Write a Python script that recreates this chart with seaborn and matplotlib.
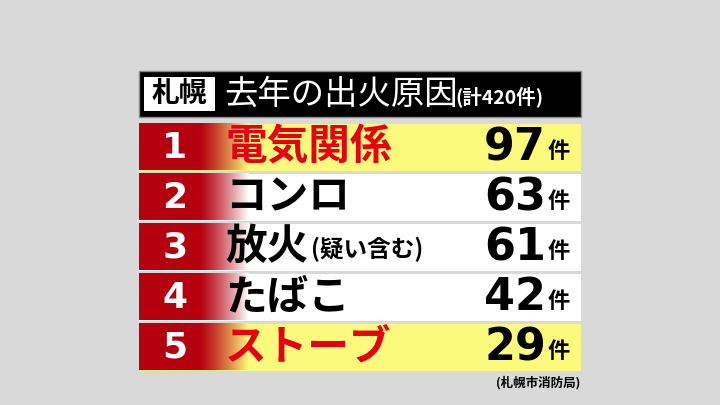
import numpy as np
import pandas as pd
import matplotlib.pyplot as plt
import seaborn as sns
from matplotlib.patches import Rectangle
from matplotlib.colors import to_rgb

ranks = ['1', '2', '3', '4', '5']
causes = ['電気関係', 'コンロ', '放火', 'たばこ', 'ストーブ']
extra = ['', '', '(疑い含む)', '', '']
counts = [97, 63, 61, 42, 29]
row_colors = ['#fcfa7c', '#ffffff', '#ffffff', '#ffffff', '#fcfa7c']
text_colors = ['#e60012', '#000000', '#000000', '#000000', '#e60012']

sns.set_theme(style='white')
plt.rcParams['font.family'] = ['Noto Sans CJK JP', 'DejaVu Sans']

fig = plt.figure(figsize=(7.2, 4.05), dpi=100, facecolor='#d9d9d9')

# background axes in pixel coordinates
bg = fig.add_axes([0, 0, 1, 1])
bg.set_xlim(0, 720)
bg.set_ylim(405, 0)
bg.axis('off')
bg.set_facecolor('#d9d9d9')

# header
bg.add_patch(Rectangle((139, 71), 442, 46, facecolor='#000000', edgecolor='#888888', lw=1))
bg.add_patch(Rectangle((144, 77), 71, 34, facecolor='#ffffff', edgecolor='none'))
bg.text(179, 94, '札幌', fontsize=20, fontweight='bold', color='black', ha='center', va='center')
bg.text(224, 94, '去年の出火原因', fontsize=24, color='white', ha='left', va='center')
bg.text(455, 97, '(計420件)', fontsize=14, fontweight='bold', color='white', ha='left', va='center')
bg.text(580, 383, '(札幌市消防局)', fontsize=9, fontweight='bold', color='black', ha='right', va='center')

# rows axes: 442 px wide starting at x=139, rows 122..372
ax = fig.add_axes([139 / 720, 1 - 372 / 405, 442 / 720, 250 / 405])
df = pd.DataFrame({'rank': ranks, 'width': [442] * 5})
sns.barplot(data=df, y='rank', x='width', hue='rank', palette=row_colors,
            saturation=1, legend=False, width=0.94, ax=ax, edgecolor='none')
ax.set_xlim(0, 442)
ax.set_ylim(4.5, -0.5)
ax.axis('off')

red = np.array(to_rgb('#b5000f'))
for i, (r, c, e, n, rc, tc) in enumerate(zip(ranks, causes, extra, counts, row_colors, text_colors)):
    base = np.array(to_rgb(rc))
    xs = np.linspace(0, 1, 200)
    t = np.clip((xs - 0.55) / 0.45, 0, 1) ** 1.2
    grad = red[None, :] * (1 - t[:, None]) + base[None, :] * t[:, None]
    ax.imshow(grad[None, :, :], extent=(0, 110, i + 0.47, i - 0.47), aspect='auto', zorder=3)
    ax.text(36, i + 0.02, r, fontsize=26, fontweight='bold', color='white',
            ha='center', va='center', zorder=4, family='DejaVu Sans')
    ax.text(86, i, c, fontsize=30, fontweight='bold', color=tc, ha='left', va='center', zorder=4)
    if e:
        ax.text(172, i + 0.05, e, fontsize=17, fontweight='bold', color='black',
                ha='left', va='center', zorder=4)
    ax.text(407, i + 0.02, str(n), fontsize=32, fontweight='bold', color='black',
            ha='right', va='center', zorder=4, family='DejaVu Sans')
    ax.text(409, i + 0.1, '件', fontsize=16, fontweight='bold', color='black',
            ha='left', va='center', zorder=4)

fig.savefig('out.png', dpi=100, facecolor=fig.get_facecolor())
